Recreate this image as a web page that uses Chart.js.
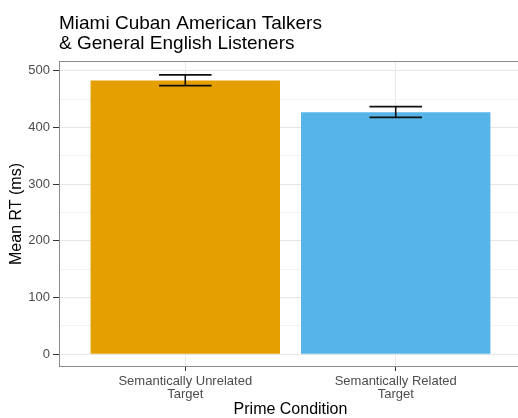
<!DOCTYPE html>
<html>
<head>
<meta charset="utf-8">
<script src="https://cdn.jsdelivr.net/npm/chart.js@4.4.0/dist/chart.umd.min.js"></script>
<style>
  html, body { margin: 0; padding: 0; background: #fff; overflow: hidden; }
  #wrap { width: 522px; height: 418px; }
</style>
</head>
<body>
<div id="wrap"><canvas id="rtChart" width="522" height="418"></canvas></div>
<script>
  // Mean reaction time by prime condition, with error bar ends
  const conditions = [['Semantically Unrelated', 'Target'], ['Semantically Related', 'Target']];
  const meanRT = [483, 427];
  const errLow = [474, 418];
  const errHigh = [493, 437];
  const barColors = ['#E69F00', '#56B4E9'];
  const yMajor = [0, 100, 200, 300, 400, 500];
  const yMinor = [50, 150, 250, 350, 450];

  const titleLines = ['Miami Cuban American Talkers', '& General English Listeners'];
  const fontFamily = '"Liberation Sans", Arial, Helvetica, sans-serif';

  const isMajor = v => yMajor.includes(v);

  // Two-line plot title, left-aligned with the panel
  const plotTitle = {
    id: 'plotTitle',
    afterDraw(chart) {
      const { ctx, chartArea } = chart;
      ctx.save();
      ctx.fillStyle = '#000';
      ctx.font = '19px ' + fontFamily;
      ctx.textAlign = 'left';
      ctx.textBaseline = 'alphabetic';
      titleLines.forEach((line, i) => ctx.fillText(line, chartArea.left, 28.5 + i * 20));
      ctx.restore();
    }
  };

  // Panel border all round
  const panelBorder = {
    id: 'panelBorder',
    afterDraw(chart) {
      const { ctx, chartArea } = chart;
      ctx.save();
      ctx.strokeStyle = '#8c8c8c';
      ctx.lineWidth = 1;
      ctx.strokeRect(chartArea.left + 0.5, chartArea.top + 0.5,
        chartArea.right - chartArea.left - 1, chartArea.bottom - chartArea.top - 1);
      ctx.restore();
    }
  };

  // Error bars with caps
  const errorBars = {
    id: 'errorBars',
    afterDatasetsDraw(chart) {
      const { ctx, scales: { x, y } } = chart;
      ctx.save();
      ctx.strokeStyle = '#111';
      ctx.lineWidth = 1.6;
      meanRT.forEach((m, i) => {
        const cx = x.getPixelForValue(i + 1);
        const x0 = x.getPixelForValue(i + 1 - 0.125);
        const x1 = x.getPixelForValue(i + 1 + 0.125);
        const yLo = y.getPixelForValue(errLow[i]);
        const yHi = y.getPixelForValue(errHigh[i]);
        ctx.beginPath();
        ctx.moveTo(x0, yHi); ctx.lineTo(x1, yHi);
        ctx.moveTo(x0, yLo); ctx.lineTo(x1, yLo);
        ctx.moveTo(cx, yHi); ctx.lineTo(cx, yLo);
        ctx.stroke();
      });
      ctx.restore();
    }
  };

  const ctx = document.getElementById('rtChart').getContext('2d');
  const rtChart = new Chart(ctx, {
    type: 'bar',
    data: {
      datasets: [{
        data: meanRT.map((v, i) => ({ x: i + 1, y: v })),
        backgroundColor: barColors,
        borderWidth: 0,
        barPercentage: 0.9,
        categoryPercentage: 1.0
      }]
    },
    options: {
      responsive: false,
      animation: false,
      layout: { padding: { top: 61, left: 0, right: 0, bottom: 0 } },
      plugins: {
        legend: { display: false },
        tooltip: { enabled: false },
        title: { display: false }
      },
      scales: {
        x: {
          type: 'linear',
          offset: false,
          min: 0.4,
          max: 2.6,
          afterBuildTicks: s => { s.ticks = conditions.map((c, i) => ({ value: i + 1 })); },
          afterFit: s => { s.height = 51; },
          ticks: {
            callback: v => conditions[v - 1],
            color: '#4d4d4d',
            font: { family: fontFamily, size: 13, lineHeight: 1.0 },
            padding: 4,
            maxRotation: 0,
            autoSkip: false
          },
          grid: {
            offset: false,
            color: '#e8e8e8',
            lineWidth: 1,
            tickColor: '#333',
            tickLength: 4
          },
          border: { display: false },
          title: {
            display: true,
            text: 'Prime Condition',
            color: '#000',
            font: { family: fontFamily, size: 16, lineHeight: 1.0 },
            padding: { top: 0, bottom: 0 }
          }
        },
        y: {
          min: -22.5,
          max: 517.5,
          afterBuildTicks: s => {
            s.ticks = yMajor.concat(yMinor).sort((a, b) => a - b).map(v => ({ value: v }));
          },
          afterFit: s => { s.width = 59; },
          ticks: {
            callback: v => (isMajor(v) ? v : ''),
            color: '#4d4d4d',
            font: { family: fontFamily, size: 13 },
            padding: 3
          },
          grid: {
            color: c => (isMajor(c.tick.value) ? '#e6e6e6' : '#f3f3f3'),
            lineWidth: 1,
            tickColor: c => (isMajor(c.tick.value) ? '#333' : 'rgba(0,0,0,0)'),
            tickLength: 6
          },
          border: { display: false },
          title: {
            display: true,
            text: 'Mean RT (ms)',
            color: '#000',
            font: { family: fontFamily, size: 16 },
            padding: { top: 7, bottom: 0 }
          }
        }
      }
    },
    plugins: [plotTitle, errorBars, panelBorder]
  });
</script>
</body>
</html>
